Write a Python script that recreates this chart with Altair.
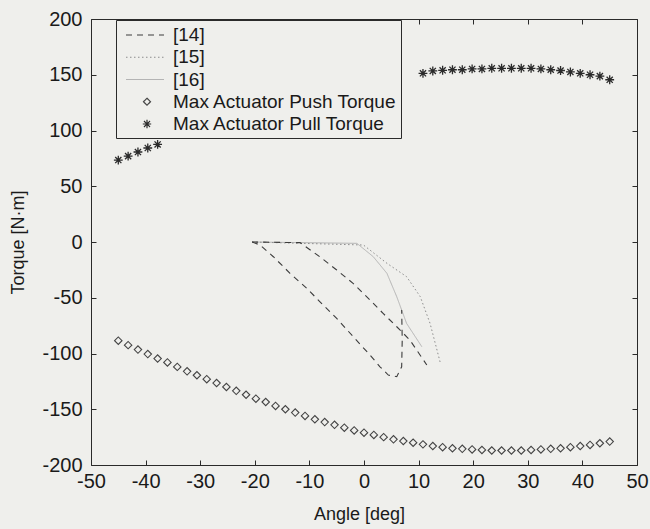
import altair as alt
import pandas as pd

# ---------------- data ----------------
X_TICKS = [-50, -40, -30, -20, -10, 0, 10, 20, 30, 40, 50]
Y_TICKS = [-200, -150, -100, -50, 0, 50, 100, 150, 200]

PUSH_ANGLE = [-45.0, -43.2, -41.4, -39.6, -37.8, -36.0, -34.2, -32.4, -30.6, -28.8,
              -27.0, -25.2, -23.4, -21.6, -19.8, -18.0, -16.2, -14.4, -12.6, -10.8,
              -9.0, -7.2, -5.4, -3.6, -1.8, 0.0, 1.8, 3.6, 5.4, 7.2,
              9.0, 10.8, 12.6, 14.4, 16.2, 18.0, 19.8, 21.6, 23.4, 25.2,
              27.0, 28.8, 30.6, 32.4, 34.2, 36.0, 37.8, 39.6, 41.4, 43.2, 45.0]
PUSH_TORQUE = [-88.5, -92.5, -96.5, -100.5, -104.5, -108, -112, -116, -119.5, -123,
               -126.5, -130, -133.5, -137, -140.5, -143.5, -147, -150, -153, -156,
               -159, -161.5, -164, -166.5, -169, -171, -173, -175, -177, -178.5,
               -180, -181.5, -183, -184, -185, -185.5, -186, -186.5, -187, -187,
               -187, -187, -186.5, -186, -185.5, -185, -184, -183, -182, -180.5, -179]

PULL_ANGLE = [-45.0, -43.2, -41.4, -39.6, -37.8,
              10.8, 12.6, 14.4, 16.2, 18.0, 19.8, 21.6, 23.4, 25.2, 27.0,
              28.8, 30.6, 32.4, 34.2, 36.0, 37.8, 39.6, 41.4, 43.2, 45.0]
PULL_TORQUE = [73.5, 77, 80.7, 84.3, 87.5,
               151.3, 153.4, 154, 154.5, 154.5, 155.2, 155.2, 155.8, 155.8, 155.8,
               155.8, 155.8, 155.2, 154.5, 153.8, 152.5, 151.3, 150, 148.8, 145.5]

# [14] two dashed curves
REF14_A_ANGLE = [-20.5, -19.05, -16.6, -13.55, -10.5, -8.06, -5.0, -1.96, 1.1, 2.93, 4.45, 6.0, 6.9, 7.0, 6.9]
REF14_A_TORQUE = [0, -2.7, -13.2, -28.1, -41.5, -53.6, -68.5, -85.0, -101.4, -111.9, -119.3, -120.8, -111.9, -87.9, -61]
REF14_B_ANGLE = [-20.5, -11.7, -8.1, -5.0, -2.0, 1.1, 3.5, 6.0, 8.4, 11.5]
REF14_B_TORQUE = [0, -0.6, -13.2, -25.1, -37.1, -52, -64, -76, -87.9, -110.3]
# [15] dotted curve
REF15_ANGLE = [-20.5, -0.1, 4.2, 7.8, 10.3, 12.1, 14.0]
REF15_TORQUE = [0, -2.7, -19.1, -31.1, -49, -73, -108.8]
# [16] thin light curve
REF16_ANGLE = [-20.5, -1.3, 1.7, 4.2, 6.0, 7.8, 10.6]
REF16_TORQUE = [0, -1.2, -13.2, -28.1, -49.1, -73, -94]

LEGEND_LABELS = ["[14]", "[15]", "[16]", "Max Actuator Push Torque", "Max Actuator Pull Torque"]

# ---------------- styles ----------------
FONT = "Liberation Sans"
BG = "#efefec"
TXT = "#1a1a1a"
AX = "#2a2a2a"
C14, C15, C16 = "#3c3c3c", "#8c8c8c", "#b4b4b4"
C_PUSH, C_PULL = "#444444", "#2a2a2a"
DASH14, DASH15, SOLID = [6, 5], [1.5, 2.5], [1, 0]

ASTERISK = "M0,-1L0,1M-1,0L1,0M-0.7,-0.7L0.7,0.7M-0.7,0.7L0.7,-0.7"
LEG_LINE = "M-0.5,0L3.3,0"
LEG_DIAMOND = "M1.25,0L1.6,-0.35L1.95,0L1.6,0.35Z"
LEG_ASTER = "M1.6,-0.42L1.6,0.42M1.18,0L2.02,0M1.3,-0.3L1.9,0.3M1.3,0.3L1.9,-0.3"

LEGEND_SHAPES = [LEG_LINE, LEG_LINE, LEG_LINE, LEG_DIAMOND, LEG_ASTER]
LEGEND_COLORS = [C14, C15, C16, C_PUSH, C_PULL]
LEGEND_DASHES = [DASH14, DASH15, SOLID, SOLID, SOLID]

# ---------------- tables ----------------
def curve(seg, xs, ys):
    return pd.DataFrame({"seg": seg, "idx": list(range(len(xs))), "angle": xs, "torque": ys})

df14 = pd.concat([curve("a", REF14_A_ANGLE, REF14_A_TORQUE),
                  curve("b", REF14_B_ANGLE, REF14_B_TORQUE)])
df15 = curve("a", REF15_ANGLE, REF15_TORQUE)
df16 = curve("a", REF16_ANGLE, REF16_TORQUE)
df_push = pd.DataFrame({"angle": PUSH_ANGLE, "torque": PUSH_TORQUE})
df_pull = pd.DataFrame({"angle": PULL_ANGLE, "torque": PULL_TORQUE})

xs = alt.Scale(domain=[-50, 50], nice=False, zero=False)
ys = alt.Scale(domain=[-200, 200], nice=False, zero=False)

label_expr = "'' + datum.value"

x_bottom = alt.Axis(orient="bottom", values=X_TICKS, offset=-5, tickSize=5, tickColor=AX,
                    domain=False, grid=False, labelFlush=False, labelOverlap=False,
                    labelPadding=6, labelFont=FONT, labelFontSize=20, labelColor=TXT,
                    labelExpr=label_expr, title="Angle [deg]", titleFont=FONT,
                    titleFontSize=18, titleFontWeight="normal", titleColor=TXT,
                    titleBaseline="alphabetic", titleY=59, titleX=268)
y_left = alt.Axis(orient="left", values=Y_TICKS, offset=-5, tickSize=5, tickColor=AX,
                  domain=False, grid=False, labelOverlap=False, labelPadding=9,
                  labelFont=FONT, labelFontSize=20, labelColor=TXT, labelExpr=label_expr,
                  title="Torque [N·m]", titleFont=FONT, titleFontSize=18,
                  titleFontWeight="normal", titleColor=TXT, titleBaseline="alphabetic",
                  titleX=-73)
x_top = alt.Axis(orient="top", values=X_TICKS, offset=-5, tickSize=5, tickColor=AX,
                 domain=False, grid=False, labels=False, title=None)
y_right = alt.Axis(orient="right", values=Y_TICKS, offset=-5, tickSize=5, tickColor=AX,
                   domain=False, grid=False, labels=False, title=None)

def line_layer(df, color, dash, width):
    return alt.Chart(df).mark_line(color=color, strokeDash=dash, strokeWidth=width).encode(
        x=alt.X("angle:Q", scale=xs, axis=None),
        y=alt.Y("torque:Q", scale=ys, axis=None),
        detail="seg:N",
        order="idx:Q",
    )

l14 = line_layer(df14, C14, DASH14, 1.1)
l15 = line_layer(df15, C15, DASH15, 1.0)
l16 = line_layer(df16, C16, SOLID, 1.0)

push = alt.Chart(df_push).mark_point(shape="diamond", size=55, filled=False, opacity=1,
                                     color=C_PUSH, strokeWidth=1.1).encode(
    x=alt.X("angle:Q", scale=xs, axis=x_bottom),
    y=alt.Y("torque:Q", scale=ys, axis=y_left),
)
pull = alt.Chart(df_pull).mark_point(shape=ASTERISK, size=78, filled=False, opacity=1,
                                     color=C_PULL, strokeWidth=1.3).encode(
    x=alt.X("angle:Q", scale=xs, axis=x_top),
    y=alt.Y("torque:Q", scale=ys, axis=y_right),
)

leg = alt.Legend(title=None, orient="none", legendX=25, legendY=1, fillColor=BG,
                 strokeColor=AX, padding=4, symbolSize=400, rowPadding=1.25,
                 labelOffset=31, labelFont=FONT, labelFontSize=19, labelColor=TXT,
                 labelLimit=400, symbolStrokeWidth=1.2, zindex=1)

legend_layer = alt.Chart(alt.Data(values=[])).mark_point(filled=False, opacity=1, strokeWidth=1.2).encode(
    shape=alt.Shape("series:N", scale=alt.Scale(domain=LEGEND_LABELS, range=LEGEND_SHAPES), legend=leg),
    color=alt.Color("series:N", scale=alt.Scale(domain=LEGEND_LABELS, range=LEGEND_COLORS), legend=leg),
    strokeDash=alt.StrokeDash("series:N", scale=alt.Scale(domain=LEGEND_LABELS, range=LEGEND_DASHES), legend=leg),
)

chart = alt.layer(l16, l15, l14, push, pull, legend_layer).properties(
    width=546, height=446,
    autosize=alt.AutoSizeParams(type="none"),
    padding={"left": 91, "top": 19, "right": 13, "bottom": 64},
    background=BG,
).configure_view(stroke=AX, strokeWidth=1)

chart.save("out.html", embed_options={"renderer": "svg", "actions": False})
